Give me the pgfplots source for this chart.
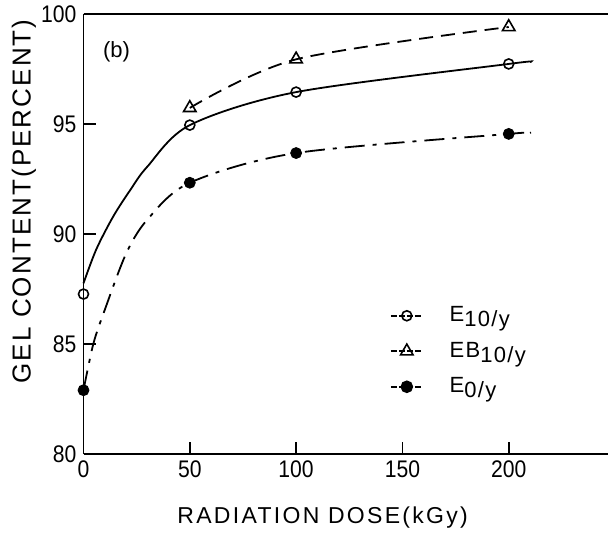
\documentclass[border=0pt]{standalone}
\usepackage{fontspec}
\setmainfont{Liberation Sans}
\newfontfamily\tickfont[FakeStretch=0.88]{Liberation Sans}
\newfontfamily\xlblfont[LetterSpace=10]{Liberation Sans}
\newfontfamily\ylblfont[LetterSpace=8]{Liberation Sans}
\newfontfamily\legfont[LetterSpace=6]{Liberation Sans}
\usepackage{pgfplots}
\pgfplotsset{compat=1.18}
\begin{document}
\begin{tikzpicture}
\begin{axis}[
  scale only axis,
  width=262.25pt, height=220pt,
  xmin=0, xmax=246.7, ymin=80, ymax=100,
  axis x line=box, axis y line=left,
  axis line style={-, line width=0.9pt},
  xtick pos=left, ytick pos=left,
  tick align=inside,
  major tick length=6pt,
  every tick/.style={black, line width=0.8pt},
  xtick={0,50,100,150,200},
  ytick={80,85,90,95,100},
  /pgf/number format/assume math mode=true,
  tick label style={font=\tickfont\fontsize{12}{13}\selectfont},
  xlabel={RADIATION DOSE(kGy)},
  ylabel={GEL CONTENT(PERCENT)},
  xlabel style={font=\xlblfont\fontsize{11.5}{12}\selectfont, at={(axis description cs:0.456,-0.145)}, anchor=center},
  ylabel style={font=\ylblfont\fontsize{13}{14}\selectfont, at={(axis description cs:-0.1134,0.574)}, anchor=center, rotate=0},
  clip=false,
  legend style={at={(axis description cs:0.5844,0.3545)}, anchor=north west, draw=none, fill=none,
    inner sep=0pt, outer sep=0pt, row sep=0pt, column sep=13pt,
    nodes={inner sep=0pt, minimum height=17.75pt, anchor=west},
    font=\legfont\fontsize{11}{12}\selectfont},
  legend cell align=left,
  legend image code/.code={\draw[mark repeat=2, mark phase=2, #1] plot coordinates {(0pt,0pt) (8pt,0pt) (16pt,0pt)};},
]
% curves (lines)
\addplot[black, line width=0.9pt, smooth, forget plot] coordinates {
  (0,87.76) (6,89.3) (14,90.8) (22,92.0) (30,93.06) (50,94.95) (100,96.45) (200,97.73) (210,97.82)};
\addplot[black, line width=0.9pt, smooth, dash pattern=on 7pt off 4pt, forget plot] coordinates {
  (50,95.73) (100,97.94) (200,99.41)};
\addplot[black, line width=0.9pt, smooth, dash pattern=on 10pt off 4pt on 2pt off 4pt, forget plot] coordinates {
  (0,82.9) (4.6,85.0) (10,86.55) (20,89.1) (30,90.65) (50,92.33) (100,93.68) (200,94.55) (210,94.6)};
% data points
\addplot[black, only marks, mark=o, mark size=2.5pt, mark options={fill=white, line width=0.8pt}, forget plot] coordinates {
  (0,87.27) (50,94.95) (100,96.45) (200,97.73)};
\addplot[black, only marks, mark=triangle, mark size=3.6pt, mark options={fill=white, line width=0.8pt}, forget plot] coordinates {
  (50,95.73) (100,97.94) (200,99.41)};
\addplot[black, only marks, mark=*, mark size=2.75pt, mark options={fill=black}, forget plot] coordinates {
  (0,82.9) (50,92.33) (100,93.68) (200,94.55)};
% legend
\addlegendimage{black, line width=0.8pt, dash pattern=on 3pt off 1pt, mark=o, mark size=2.5pt, mark options={solid, fill=white}}
\addlegendentry{E\raisebox{-2.5pt}{10/y}}
\addlegendimage{black, line width=0.8pt, dash pattern=on 3pt off 1pt, mark=triangle, mark size=3.6pt, mark options={solid, fill=white}}
\addlegendentry{EB\raisebox{-2.5pt}{10/y}}
\addlegendimage{black, line width=0.8pt, dash pattern=on 3pt off 1pt, mark=*, mark size=2.75pt, mark options={solid, fill=black}}
\addlegendentry{E\raisebox{-2.5pt}{0/y}}
\node[font=\fontsize{11}{12}\selectfont] at (axis cs:15.5,98.3) {(b)};
\coordinate (bl) at (rel axis cs:0,0);
\coordinate (tr) at (rel axis cs:1,1);
\end{axis}
\pgfresetboundingbox
\path ([xshift=-41.75pt,yshift=-41pt]bl) rectangle ([yshift=7pt]tr);
\end{tikzpicture}
\end{document}
